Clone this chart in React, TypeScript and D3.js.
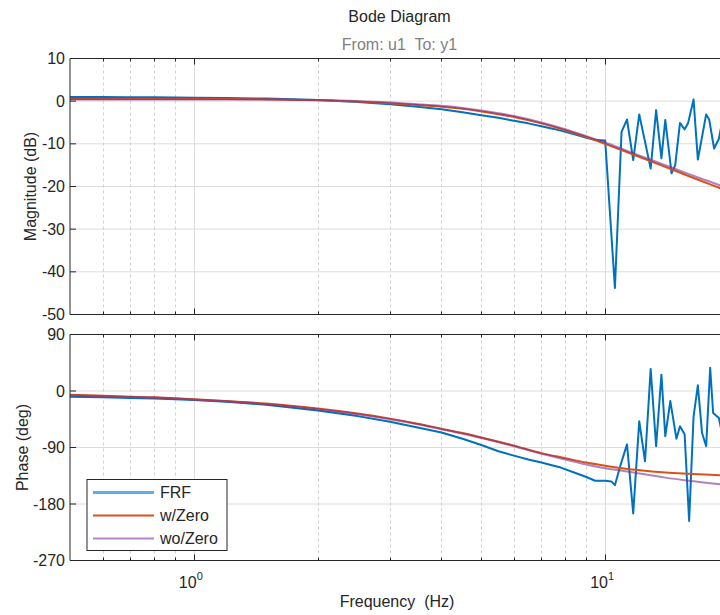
import React from "react";
import * as d3 from "d3";

// ---------- data ----------
const modelFreq = [0.5, 0.6, 0.7, 0.8, 0.9, 1, 1.2, 1.5, 2, 2.5, 3, 3.5, 4, 4.5, 5, 6, 7, 8, 9, 10, 11, 12, 14, 16, 18, 20];
const magWZero = [0.5, 0.5, 0.5, 0.5, 0.5, 0.5, 0.5, 0.4, 0.2, -0.1, -0.5, -0.9, -1.3, -1.8, -2.4, -3.7, -5.2, -6.8, -8.4, -10.0, -11.5, -12.9, -15.4, -17.6, -19.5, -21.2];
const magWoZero = [0.4, 0.4, 0.4, 0.4, 0.4, 0.4, 0.4, 0.4, 0.3, 0.0, -0.3, -0.7, -1.1, -1.6, -2.2, -3.5, -5.0, -6.6, -8.2, -9.7, -11.2, -12.6, -15.0, -17.1, -18.9, -20.5];
const phWZero = [-6, -7.5, -9, -10, -11.5, -13, -16, -20, -28, -36, -44, -52, -60, -67, -74, -87, -99, -107, -114, -119, -123, -126, -130, -132, -133.5, -134.5];
const phWoZero = [-7, -8, -9.5, -10.5, -12, -13.5, -16.5, -21, -29, -37, -45, -53, -61, -68, -75, -88, -100, -109, -117, -123, -127, -131, -138, -143, -147, -150];

const frfMagFreq = [0.5, 0.6, 0.7, 0.8, 0.9, 1, 1.2, 1.5, 2, 2.5, 3, 3.5, 4, 4.5, 5, 5.5, 6, 6.5, 7, 7.5, 8, 8.5, 9, 9.5, 10.0,
  10.56, 10.96, 11.3, 11.7, 12.1, 12.9, 13.3, 13.7, 14.0, 14.5, 14.8, 15.2, 15.6, 15.9, 16.4, 16.8, 17.6, 17.9, 18.4, 18.9, 19.4];
const frfMag = [1.0, 0.95, 0.9, 0.9, 0.85, 0.8, 0.75, 0.6, 0.3, -0.2, -0.7, -1.3, -1.9, -2.6, -3.3, -3.9, -4.6, -5.2, -5.9, -6.5, -7.2, -7.9, -8.6, -9.1, -9.2,
  -43.8, -7.2, -4.3, -13.8, -3.1, -15.8, -2.1, -13.4, -4.4, -16.9, -15.0, -5.1, -6.6, -5.2, 0.4, -13.7, -3.1, -4.3, -11.1, -8.8, -3.0];

const frfPhFreq = [0.5, 0.6, 0.7, 0.8, 0.9, 1, 1.2, 1.5, 2, 2.5, 3, 3.5, 4, 4.5, 5, 5.5, 6, 6.5, 7, 7.5, 7.8, 8.5, 9, 9.45, 10, 10.35,
  10.56, 10.9, 11.3, 11.7, 12.1, 12.5, 12.9, 13.3, 13.7, 14.0, 14.4, 14.9, 15.2, 15.6, 16.0, 16.4, 16.8, 17.2, 17.6, 18.0, 18.3, 18.9, 19.4];
const frfPh = [-9, -10, -11, -12, -13, -14.5, -17, -22, -31, -40, -49, -58, -66, -76, -86, -96, -103, -109, -114, -119, -122, -131, -137, -143, -143, -144,
  -150, -118, -85, -195, -48, -112, 35, -88, 26, -72, -16, -76, -56, -69, -207, -41, 9, -67, -88, 37, -35, -43, -80];

const magTicks = [10, 0, -10, -20, -30, -40, -50];
const phTicks = [90, 0, -90, -180, -270];
const majorFreqTicks = [1, 10];
const minorFreqTicks = [0.6, 0.7, 0.8, 0.9, 2, 3, 4, 5, 6, 7, 8, 9, 20];
const xTickExponents = ["0", "1"];
const legendLabels = ["FRF", "w/Zero", "wo/Zero"];

// ---------- layout ----------
const W = 720, H = 615;
const L = 70, R = 729;
const magTop = 58.5, magBot = 314.5;
const phTop = 334.5, phBot = 560.5;
const FONT = "'Liberation Sans', Arial, Helvetica, sans-serif";
const AX = "#262626";
const GRID = "#dcdcdc";

const x = d3.scaleLog().domain([0.5, 20]).range([L, R]);
const yMag = d3.scaleLinear().domain([-50, 10]).range([magBot, magTop]);
const yPh = d3.scaleLinear().domain([-270, 90]).range([phBot, phTop]);

const C_FRF = "#0072BD";
const C_W = "#D95319";
const C_WO = "#7E2F8E";

function lineGen(y: d3.ScaleLinear<number, number>, smooth: boolean) {
  return d3
    .line<[number, number]>()
    .x((d) => x(d[0]))
    .y((d) => y(d[1]))
    .curve(smooth ? d3.curveMonotoneX : d3.curveLinear);
}

function zip(a: number[], b: number[]): [number, number][] {
  return a.map((v, i) => [v, b[i]]);
}

function Panel({ top, bot, y, ticks, id, children }: any) {
  return (
    <g>
      {/* horizontal grid */}
      {ticks.map((t: number) => (
        <line key={"h" + t} x1={L} x2={R} y1={y(t)} y2={y(t)} stroke={GRID} strokeWidth={1} />
      ))}
      {/* minor vertical grid */}
      {minorFreqTicks.map((f) => (
        <line key={"mv" + f} x1={Math.round(x(f)) + 0.5} x2={Math.round(x(f)) + 0.5} y1={top} y2={bot} stroke="#d0d0d0" strokeWidth={1} strokeDasharray="3,3" />
      ))}
      {/* major vertical grid */}
      {majorFreqTicks.map((f) => (
        <line key={"Mv" + f} x1={Math.round(x(f)) + 0.5} x2={Math.round(x(f)) + 0.5} y1={top} y2={bot} stroke={GRID} strokeWidth={1} />
      ))}
      <g clipPath={`url(#${id})`}>{children}</g>
      {/* box */}
      <line x1={L} x2={R} y1={top} y2={top} stroke={AX} strokeWidth={1} />
      <line x1={L} x2={R} y1={bot} y2={bot} stroke={AX} strokeWidth={1} />
      <line x1={L} x2={L} y1={top} y2={bot} stroke={AX} strokeWidth={1} />
      <line x1={R} x2={R} y1={top} y2={bot} stroke={AX} strokeWidth={1} />
      {/* y ticks */}
      {ticks.map((t: number) => (
        <g key={"yt" + t}>
          <line x1={L} x2={L + 6} y1={y(t)} y2={y(t)} stroke={AX} />
          <line x1={R} x2={R - 6} y1={y(t)} y2={y(t)} stroke={AX} />
          <text x={65} y={y(t)} dy="0.35em" textAnchor="end" fontSize={16} fill={AX} fontFamily={FONT}>
            {t < 0 ? "-" + Math.abs(t) : String(t)}
          </text>
        </g>
      ))}
      {/* x ticks */}
      {majorFreqTicks.map((f) => (
        <g key={"xt" + f}>
          <line x1={Math.round(x(f)) + 0.5} x2={Math.round(x(f)) + 0.5} y1={bot} y2={bot - 6} stroke={AX} />
          <line x1={Math.round(x(f)) + 0.5} x2={Math.round(x(f)) + 0.5} y1={top} y2={top + 6} stroke={AX} />
        </g>
      ))}
      {minorFreqTicks.map((f) => (
        <g key={"xm" + f}>
          <line x1={Math.round(x(f)) + 0.5} x2={Math.round(x(f)) + 0.5} y1={bot} y2={bot - 3} stroke={AX} />
          <line x1={Math.round(x(f)) + 0.5} x2={Math.round(x(f)) + 0.5} y1={top} y2={top + 3} stroke={AX} />
        </g>
      ))}
    </g>
  );
}

export default function App() {
  const magLine = lineGen(yMag, true);
  const magLineRaw = lineGen(yMag, false);
  const phLine = lineGen(yPh, true);
  const phLineRaw = lineGen(yPh, false);

  const legX = 87, legY = 479.5, legW = 140, legH = 71;
  const legColors = ["#5BAEE6", C_W, "#B883CC"];

  return (
    <svg width={W} height={H} style={{ position: "absolute", left: 0, top: 0, background: "#fff" }}>
      <defs>
        <clipPath id="cm"><rect x={L} y={magTop} width={R - L} height={magBot - magTop} /></clipPath>
        <clipPath id="cp"><rect x={L} y={phTop} width={R - L} height={phBot - phTop} /></clipPath>
      </defs>
      <rect x={0} y={0} width={W} height={H} fill="#fff" />

      <text x={399.5} y={22} textAnchor="middle" fontSize={16} fill={AX} fontFamily={FONT}>Bode Diagram</text>
      <text x={399.5} y={50} textAnchor="middle" fontSize={16} fill="#808080" fontFamily={FONT} xmlSpace="preserve">From: u1  To: y1</text>

      <Panel top={magTop} bot={magBot} y={yMag} ticks={magTicks} id="cm">
        <path d={magLineRaw(zip(frfMagFreq, frfMag)) || ""} fill="none" stroke={C_FRF} strokeWidth={2} strokeLinejoin="round" />
        <path d={magLine(zip(modelFreq, magWZero)) || ""} fill="none" stroke={C_W} strokeWidth={2} />
        <path d={magLine(zip(modelFreq, magWoZero)) || ""} fill="none" stroke={C_WO} strokeWidth={2} strokeOpacity={0.6} />
      </Panel>

      <Panel top={phTop} bot={phBot} y={yPh} ticks={phTicks} id="cp">
        <path d={phLineRaw(zip(frfPhFreq, frfPh)) || ""} fill="none" stroke={C_FRF} strokeWidth={2} strokeLinejoin="round" />
        <path d={phLine(zip(modelFreq, phWZero)) || ""} fill="none" stroke={C_W} strokeWidth={2} />
        <path d={phLine(zip(modelFreq, phWoZero)) || ""} fill="none" stroke={C_WO} strokeWidth={2} strokeOpacity={0.6} />
      </Panel>

      {/* x tick labels */}
      {majorFreqTicks.map((f, i) => (
        <text key={"xl" + f} x={x(f) - 3} y={588} textAnchor="middle" fontSize={16} fill={AX} fontFamily={FONT}>
          10<tspan dy={-8} fontSize={11}>{xTickExponents[i]}</tspan>
        </text>
      ))}

      {/* axis labels */}
      <text x={397} y={607} textAnchor="middle" fontSize={16} fill={AX} fontFamily={FONT} xmlSpace="preserve">Frequency  (Hz)</text>
      <text transform={`translate(36,${(magTop + magBot) / 2}) rotate(-90)`} textAnchor="middle" fontSize={16} fill={AX} fontFamily={FONT}>Magnitude (dB)</text>
      <text transform={`translate(28,${(phTop + phBot) / 2}) rotate(-90)`} textAnchor="middle" fontSize={16} fill={AX} fontFamily={FONT}>Phase (deg)</text>

      {/* legend */}
      <rect x={legX} y={legY} width={legW} height={legH} fill="#fff" stroke={AX} strokeWidth={1} />
      {legendLabels.map((lab, i) => (
        <g key={lab}>
          <line x1={93} x2={154} y1={492.5 + i * 23} y2={492.5 + i * 23} stroke={legColors[i]} strokeWidth={i === 0 ? 3 : 2} />
          <text x={160} y={492.5 + i * 23} dy="0.35em" fontSize={16} fill={AX} fontFamily={FONT}>{lab}</text>
        </g>
      ))}
    </svg>
  );
}
